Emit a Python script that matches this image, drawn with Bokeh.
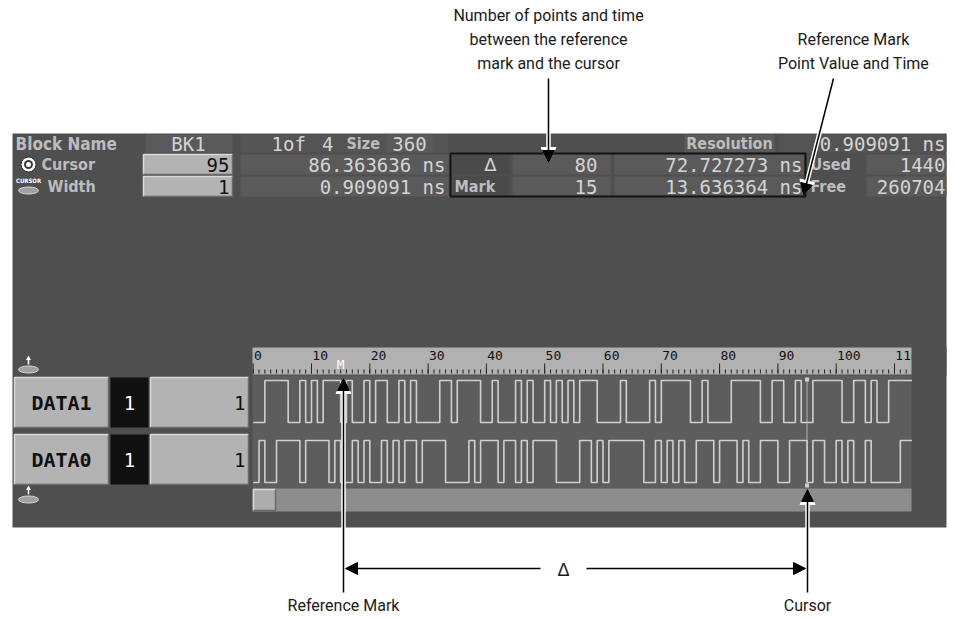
from bokeh.plotting import figure
from bokeh.models import Range1d, Arrow, NormalHead
from bokeh.core.properties import value
from bokeh.embed import file_html
from bokeh.resources import INLINE

# ---------------- data ----------------
block_name = "BK1"
block_count = ["1of", "4"]
block_size = 360
resolution = "0.909091 ns"
cursor_point = 95
cursor_time = "86.363636 ns"
width_points = 1
width_time = "0.909091 ns"
delta_points = 80
delta_time = "72.727273 ns"
mark_point = 15
mark_time = "13.636364 ns"
memory_labels = ["Used", "Free"]
memory_values = [1440, 260704]
channel_names = ["DATA1", "DATA0"]
channel_states = [1, 1]
channel_values = [1, 1]
ruler_ticks = list(range(0, 120, 10))
ruler_labels = [str(t) for t in ruler_ticks]
data1_bits = [0, 0, 1, 1, 1, 1, 0, 0, 1, 0, 1, 0, 1, 1, 1, 0, 1, 0, 0, 1,
              0, 1, 1, 0, 0, 1, 0, 1, 0, 0, 0, 0, 1, 1, 0, 1, 1, 1, 1, 0,
              0, 1, 0, 0, 0, 1, 0, 1, 0, 0, 1, 0, 1, 0, 1, 0, 1, 1, 1, 0,
              0, 0, 0, 1, 0, 0, 0, 0, 1, 0, 1, 1, 1, 1, 1, 0, 0, 1, 0, 0,
              0, 0, 1, 1, 1, 1, 1, 0, 0, 1, 1, 0, 0, 1, 0, 0, 1, 1, 1, 1,
              1, 0, 0, 1, 1, 0, 1, 0, 0, 1, 1, 1, 1]
data0_bits = [0, 1, 0, 0, 1, 1, 1, 1, 0, 1, 1, 1, 1, 0, 1, 0, 0, 1, 0, 1,
              0, 0, 1, 0, 1, 0, 1, 1, 0, 1, 1, 1, 1, 0, 0, 0, 0, 1, 0, 1,
              1, 1, 0, 1, 1, 0, 1, 0, 1, 1, 1, 1, 0, 0, 0, 0, 1, 1, 0, 1,
              0, 1, 1, 1, 1, 1, 1, 0, 0, 1, 0, 1, 0, 1, 0, 0, 1, 1, 1, 0,
              1, 1, 1, 0, 1, 0, 0, 1, 1, 1, 0, 0, 1, 1, 1, 0, 1, 1, 0, 0,
              1, 0, 1, 0, 0, 1, 0, 0, 0, 0, 0, 1, 1]
notes_top_left = ["Number of points and time", "between the reference", "mark and the cursor"]
notes_top_right = ["Reference Mark", "Point Value and Time"]
note_ref = "Reference Mark"
note_delta = "Δ"
note_cursor = "Cursor"

# ---------------- styling / layout ----------------
W, H = 956, 620
PANEL = "#4f4f4f"
CELL = "#5a5a5a"
CELL2 = "#545454"
WAVEBG = "#5d5d5d"
LIGHTBOX = "#b3b3b3"
TXT = "#d4d4d4"
TXT_LBL = "#bdbdbd"
MONO = "DejaVu Sans Mono"
COND = "DejaVu Sans Condensed"
NOTE = "Roboto"

X0, PXU = 252.7, 5.83          # ruler origin and pixels per sample
D1_LO, D1_HI = 422, 380
D0_LO, D0_HI = 482, 440

p = figure(width=W, height=H, x_range=Range1d(0, W), y_range=Range1d(H, 0),
           output_backend="svg", toolbar_location=None, min_border=0,
           x_axis_location=None, y_axis_location=None)
p.grid.visible = False
p.outline_line_color = None
p.background_fill_color = "white"
p.border_fill_color = "white"

p.extra_x_ranges = {"t": Range1d((0 - X0) / PXU, (W - X0) / PXU)}


def lvl(lo, hi):
    s = lo - hi
    return Range1d((lo - H) / s, lo / s)


p.extra_y_ranges = {"d1": lvl(D1_LO, D1_HI), "d0": lvl(D0_LO, D0_HI)}


def box(l, r, t, b, fill, line=None, lw=1):
    p.quad(left=[l], right=[r], top=[t], bottom=[b], fill_color=fill,
           line_color=line, line_width=lw)


def bevel(l, r, t, b, fill=LIGHTBOX, hi="#dadada", lo="#6a6a6a"):
    box(l, r, t, b, fill)
    p.multi_line(xs=[[l, l, r], [l, r, r]], ys=[[b, t, t], [b, b, t]],
                 line_color=[hi, lo], line_width=1.5)


def txt(x, y, s, size, color=TXT, align="left", font=MONO, style="normal", **kw):
    p.text(x=[x], y=[y], text=[s], text_font=value(font), text_font_size=f"{size}px",
           text_color=color, text_align=align, text_baseline="middle",
           text_font_style=style, **kw)


# panel
box(12, 946, 133, 527, PANEL)

VS = 19   # value font size
LS = 16   # label font size

# ---- header row ----
RH = 143
txt(15, RH, "Block Name", 17, TXT_LBL, font=COND, style="bold")
box(145, 232, 134, 152, CELL)
txt(188, RH, block_name, VS, TXT, "center")
box(240, 448, 134, 152, CELL2)
txt(271, RH, block_count[0], VS, TXT)
txt(333, RH, block_count[1], VS, TXT, "right")
txt(346, RH, "Size", LS, TXT_LBL, font=COND, style="bold")
box(386, 432, 134, 152, CELL)
txt(409, RH, str(block_size), VS, TXT, "center")
box(684, 774, 134, 152, CELL)
txt(729, RH, "Resolution", LS, TXT_LBL, "center", font=COND, style="bold")
box(778, 946, 134, 152, CELL2)
txt(945, RH, resolution, VS, TXT, "right")

# ---- cursor row ----
RB = 164
p.scatter(x=[28], y=[RB], size=15, fill_color="white", line_color="#2a2a2a", line_width=1)
p.scatter(x=[28], y=[RB], size=9, fill_color="#3a3a3a", line_color=None)
p.scatter(x=[28], y=[RB], size=5, fill_color="white", line_color=None)
txt(41, RB, "Cursor", LS, TXT_LBL, font=COND, style="bold")
bevel(143, 232, 154, 174)
txt(229, RB, str(cursor_point), VS, "#111111", "right")
box(240, 448, 154, 174, CELL)
txt(445, RB, cursor_time, VS, TXT, "right")

# ---- width row ----
RC = 186
txt(28, 180, "CURSOR", 6, "white", "center", font=COND, style="bold")
p.ellipse(x=[28], y=[190], width=20, height=7, fill_color="#a0a0a0", line_color="#d8d8d8")
txt(47, RC, "Width", LS, TXT_LBL, font=COND, style="bold")
bevel(143, 232, 176, 196)
txt(229, RC, str(width_points), VS, "#111111", "right")
box(240, 448, 176, 196, CELL)
txt(445, RC, width_time, VS, TXT, "right")

# ---- delta / mark frame ----
box(452, 508, 154, 174, "#4a4a4a")
box(512, 610, 154, 174, CELL)
box(614, 803, 154, 174, CELL)
box(452, 508, 176, 195, "#4a4a4a")
box(512, 610, 176, 195, CELL)
box(614, 803, 176, 195, CELL)
txt(490, RB, note_delta, 18, TXT, "center", font="DejaVu Sans")
txt(597, RB, str(delta_points), VS, TXT, "right")
txt(802, RB, delta_time, VS, TXT, "right")
txt(454, RC, "Mark", LS, TXT_LBL, font=COND, style="bold")
txt(597, RC, str(mark_point), VS, TXT, "right")
txt(802, RC, mark_time, VS, TXT, "right")
p.quad(left=[450], right=[805], top=[153], bottom=[196], fill_color=None,
       line_color="#151515", line_width=2)

# memory
for i, (lab, val) in enumerate(zip(memory_labels, memory_values)):
    y = RB if i == 0 else RC
    txt(810, y, lab, LS, TXT_LBL, font=COND, style="bold")
    box(866, 946, y - 10, y + 10, CELL)
    txt(945, y, str(val), VS, TXT, "right")

# ---- ruler ----
box(252, 911, 347, 374, "#b1b1b1")
minor = list(range(0, 113))
p.segment(x0=minor, x1=minor, y0=[373] * len(minor), y1=[369] * len(minor),
          x_range_name="t", line_color="#222222", line_width=1)
p.segment(x0=ruler_ticks, x1=ruler_ticks, y0=[373] * len(ruler_ticks),
          y1=[363] * len(ruler_ticks), x_range_name="t", line_color="#222222", line_width=1)
p.text(x=[t + 0.15 for t in ruler_ticks], y=[355] * len(ruler_ticks), text=ruler_labels,
       x_range_name="t", text_font=value(MONO), text_font_size="13px",
       text_color="#111111", text_baseline="middle", text_align="left")
box(911.5, 946, 346, 375, PANEL)
p.text(x=[mark_point], y=[364], text=["M"], x_range_name="t", text_font=value(MONO),
       text_font_size="13px", text_color="white", text_align="center", text_baseline="middle")

# ---- wave area ----
box(252, 911, 375, 488, WAVEBG)
for name, state, val, y0 in zip(channel_names, channel_states, channel_values, [377, 434]):
    bevel(14, 108, y0, y0 + 50)
    txt(61, y0 + 25, name, 20, "#111111", "center", font=MONO, style="bold")
    box(110, 148, y0, y0 + 50, "#101010")
    txt(129, y0 + 25, str(state), 19, "white", "center")
    bevel(150, 248, y0, y0 + 50)
    txt(245, y0 + 25, str(val), 19, "#111111", "right")

for bits, rn in [(data1_bits, "d1"), (data0_bits, "d0")]:
    xs = list(range(len(bits) + 1))
    ys = list(bits) + [bits[-1]]
    p.step(x=xs, y=ys, mode="after", x_range_name="t", y_range_name=rn,
           line_color="#d0d0d0", line_width=1.6)

# cursor line
p.segment(x0=[cursor_point], x1=[cursor_point], y0=[378], y1=[486], x_range_name="t",
          line_color="#cfcfcf", line_dash="1 1", line_width=1.5)
p.scatter(x=[cursor_point, cursor_point], y=[379, 485], x_range_name="t", marker="square",
          size=4, fill_color="#cfcfcf", line_color=None)

# scroll bar
box(252, 911, 488, 511, "#8d8d8d")
bevel(253, 275, 489, 510, fill="#adadad")

# up / down icons
for yy in [369, 499]:
    p.ellipse(x=[28], y=[yy], width=20, height=7, fill_color="#a0a0a0", line_color="#d8d8d8")
p.segment(x0=[28, 28], x1=[28, 28], y0=[357, 488], y1=[364, 494], line_color="white", line_width=1.5)
p.scatter(x=[28], y=[358], marker="triangle", size=5, fill_color="white", line_color=None)
p.scatter(x=[28], y=[488], marker="triangle", size=5, fill_color="white", line_color=None)

# ---------------- annotations ----------------
for i, s in enumerate(notes_top_left):
    txt(548, 15 + 24 * i, s, 16, "#1a1a1a", "center", font=NOTE)
for i, s in enumerate(notes_top_right):
    txt(853, 39 + 24 * i, s, 16, "#1a1a1a", "center", font=NOTE)
txt(343, 605, note_ref, 16, "#1a1a1a", "center", font=NOTE)
txt(807, 605, note_cursor, 16, "#1a1a1a", "center", font=NOTE)
txt(563, 569, note_delta, 18, "#1a1a1a", "center", font="Liberation Sans")


def arrow(x0, y0, x1, y1, outline=True):
    if outline:
        p.add_layout(Arrow(end=NormalHead(size=15, fill_color="white", line_color="white"),
                           x_start=x0, y_start=y0, x_end=x1, y_end=y1,
                           line_color="white", line_width=4.5))
    p.add_layout(Arrow(end=NormalHead(size=12, fill_color="black", line_color="black"),
                       x_start=x0, y_start=y0, x_end=x1, y_end=y1,
                       line_color="black", line_width=1.5))


arrow(548, 78, 548, 162)
arrow(833, 78, 803, 195)
arrow(343, 592, 343, 378)
arrow(807, 592, 807, 489)
arrow(540, 568, 345, 568, outline=False)
arrow(586, 568, 805, 568, outline=False)

open("out.html", "w").write(file_html(p, INLINE))
